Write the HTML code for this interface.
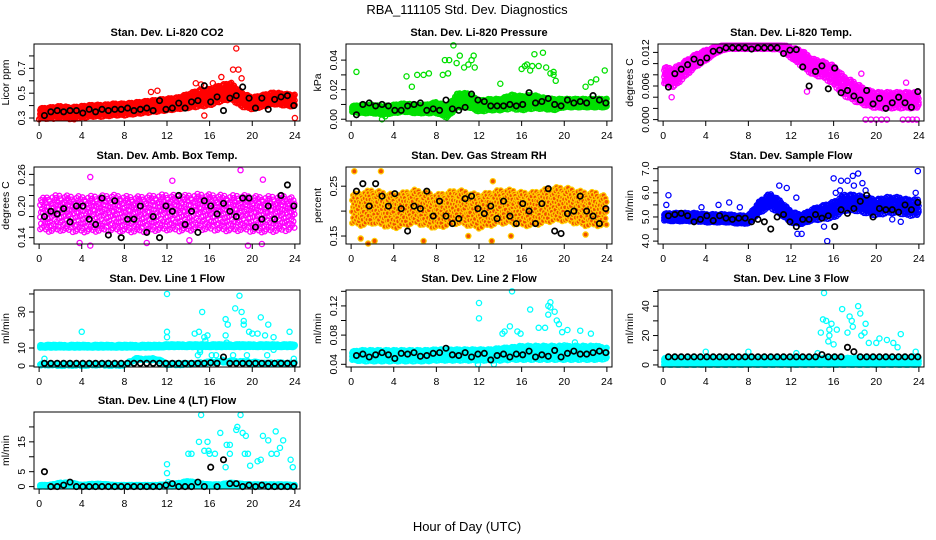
<!DOCTYPE html>
<html><head><meta charset="utf-8"><style>
body{margin:0;background:#fff;width:936px;height:540px;overflow:hidden}
svg{display:block}
text{font-family:"Liberation Sans",sans-serif;fill:#000}
</style></head><body>
<svg id="chart" width="936" height="540" viewBox="0 0 936 540" xmlns="http://www.w3.org/2000/svg">
<text x="467" y="14" font-size="13" text-anchor="middle">RBA_111105  Std. Dev. Diagnostics</text>
<text x="467" y="531" font-size="13" text-anchor="middle">Hour of Day (UTC)</text>
</svg>
<script>
// ---- data (hour-indexed band centres 0..24, band half-widths, outliers, black points) ----
const xTicks=[0,4,8,12,16,20,24];
const co2Center=[0.34,0.34,0.35,0.34,0.35,0.36,0.36,0.37,0.37,0.38,0.39,0.40,0.41,0.42,0.44,0.46,0.47,0.50,0.52,0.45,0.42,0.44,0.46,0.45,0.44];
const co2Spread=[0.04,0.05,0.05,0.05,0.05,0.05,0.05,0.05,0.05,0.05,0.05,0.05,0.05,0.05,0.06,0.07,0.07,0.07,0.07,0.06,0.05,0.05,0.05,0.05,0.05];
const co2Out=[[18.5,0.86],[18.2,0.69],[18.7,0.69],[17.1,0.63],[19,0.62],[16.3,0.58],[15.2,0.57],[14.7,0.58],[11.1,0.52],[10.5,0.51],[24,0.3],[3.3,0.29],[0,0.29],[15.5,0.32]];
const co2Black=[0.32,0.35,0.36,0.35,0.36,0.36,0.34,0.37,0.35,0.37,0.36,0.37,0.37,0.38,0.36,0.37,0.38,0.36,0.44,0.37,0.38,0.42,0.38,0.43,0.44,0.56,0.43,0.47,0.36,0.46,0.48,0.55,0.46,0.38,0.46,0.37,0.45,0.47,0.48,0.40];

const presCenter=[0.007,0.007,0.007,0.006,0.007,0.008,0.007,0.007,0.008,0.005,0.013,0.013,0.009,0.010,0.010,0.012,0.011,0.012,0.011,0.010,0.011,0.011,0.011,0.011,0.011];
const presSpread=[0.002,0.003,0.003,0.003,0.003,0.003,0.003,0.003,0.004,0.004,0.005,0.005,0.004,0.004,0.004,0.005,0.005,0.005,0.004,0.004,0.003,0.003,0.003,0.003,0.003];
const presOut=[[0.5,0.032],[5.2,0.029],[5.7,0.022],[6.2,0.030],[6.8,0.030],[7.3,0.031],[8.6,0.030],[9.1,0.031],[8.8,0.04],[9.2,0.04],[9.6,0.05],[9.9,0.038],[10.2,0.043],[10.6,0.035],[11.0,0.037],[11.3,0.040],[11.6,0.035],[11.5,0.043],[14,0.024],[16,0.034],[16.5,0.037],[17,0.036],[17.2,0.044],[17.6,0.036],[18,0.045],[18.3,0.035],[18.7,0.031],[19,0.032],[19.2,0.026],[19,0.03],[22,0.022],[22.5,0.025],[23,0.027],[23.8,0.033],[2.9,0.0],[3.2,0.002],[16.3,0.036],[16.8,0.033]];
const presBlack=[0.003,0.010,0.011,0.009,0.010,0.009,0.006,0.006,0.009,0.010,0.011,0.006,0.007,0.006,0.013,0.007,0.006,0.008,0.017,0.013,0.012,0.009,0.009,0.009,0.010,0.009,0.010,0.018,0.011,0.012,0.014,0.010,0.009,0.013,0.011,0.012,0.011,0.016,0.013,0.011];

const tempCenter=[0.008,0.0075,0.009,0.0105,0.0115,0.0125,0.013,0.013,0.013,0.013,0.013,0.013,0.012,0.011,0.0095,0.009,0.008,0.006,0.005,0.004,0.0035,0.0035,0.0035,0.0035,0.0035];
const tempSpread=[0.0015,0.0018,0.0015,0.0012,0.001,0.0006,0.0004,0.0004,0.0004,0.0004,0.0004,0.0005,0.001,0.0015,0.0015,0.0015,0.0018,0.0018,0.0018,0.0015,0.0015,0.0015,0.0015,0.0015,0.0015];
const tempOut=[[19,0],[19.5,0],[20,0],[20.5,0],[21,0],[22.5,0],[23,0],[23.4,0],[23.8,0],[0.8,0.004],[13.5,0.005],[18.6,0.0082],[22.8,0.0066]];
const tempBlack=[0.0058,0.0082,0.009,0.0098,0.0108,0.0102,0.011,0.0122,0.0124,0.0128,0.0128,0.0128,0.0128,0.0126,0.0128,0.0128,0.0128,0.0128,0.0118,0.0124,0.0125,0.0094,0.0060,0.0086,0.0096,0.0055,0.0092,0.0048,0.0052,0.0042,0.0035,0.0052,0.0028,0.0038,0.0020,0.0030,0.0040,0.0030,0.0022,0.0050];

const ambCenter=[0.185,0.186,0.188,0.186,0.185,0.186,0.187,0.188,0.186,0.185,0.186,0.188,0.189,0.187,0.188,0.190,0.189,0.188,0.187,0.188,0.186,0.185,0.186,0.187,0.186];
const ambSpread=[0.03,0.035,0.035,0.035,0.035,0.035,0.035,0.035,0.035,0.035,0.035,0.035,0.035,0.035,0.035,0.035,0.035,0.035,0.035,0.035,0.035,0.035,0.035,0.035,0.03];
const ambOut=[[4.8,0.255],[18.9,0.268],[12.5,0.248],[21.0,0.25],[3.8,0.13],[4.8,0.125],[10.1,0.13],[19.6,0.125],[20.9,0.128],[14.1,0.135]];
const ambBlack=[0.18,0.19,0.185,0.195,0.17,0.2,0.2,0.175,0.165,0.215,0.145,0.21,0.14,0.175,0.175,0.2,0.15,0.18,0.14,0.2,0.19,0.22,0.165,0.19,0.15,0.21,0.2,0.185,0.205,0.19,0.18,0.215,0.215,0.16,0.175,0.2,0.175,0.22,0.24,0.2];

const rhCenter=[0.205,0.205,0.21,0.205,0.2,0.205,0.21,0.205,0.2,0.205,0.21,0.205,0.2,0.205,0.21,0.21,0.205,0.205,0.21,0.215,0.215,0.21,0.205,0.205,0.2];
const rhSpread=[0.03,0.035,0.035,0.035,0.035,0.035,0.035,0.035,0.035,0.035,0.035,0.035,0.035,0.035,0.035,0.035,0.035,0.035,0.035,0.035,0.035,0.035,0.035,0.035,0.03];
const rhOut=[[0.3,0.28],[2.8,0.28],[1.6,0.135],[0.9,0.145],[2.2,0.14],[13.2,0.14],[6.8,0.14],[11,0.15],[13.3,0.26],[15,0.15],[22,0.153]];
const rhBlack=[0.24,0.255,0.21,0.255,0.23,0.21,0.235,0.205,0.16,0.21,0.205,0.24,0.19,0.22,0.19,0.175,0.185,0.225,0.23,0.205,0.195,0.21,0.185,0.22,0.19,0.175,0.215,0.2,0.175,0.215,0.245,0.16,0.155,0.195,0.2,0.23,0.2,0.19,0.175,0.205];

const sfCenter=[5.0,5.0,5.0,5.0,4.95,4.95,4.95,4.9,4.9,5.4,5.7,5.4,5.0,4.9,5.1,5.2,5.3,5.6,5.6,5.5,5.4,5.5,5.5,5.4,5.4];
const sfSpread=[0.15,0.18,0.18,0.18,0.18,0.18,0.18,0.18,0.18,0.25,0.3,0.3,0.25,0.2,0.25,0.3,0.35,0.35,0.35,0.35,0.35,0.35,0.35,0.35,0.35];
const sfOut=[[0.3,5.5],[0.5,5.9],[5.2,5.5],[6.2,5.6],[7.2,5.4],[10.9,6.3],[11.6,6.2],[12.5,5.8],[12.6,4.3],[13,4.3],[15.4,4.0],[15.1,4.6],[16,6.6],[16.7,6.5],[17.3,6.5],[18.3,6.8],[18.7,6.4],[17.9,6.3],[16.6,6.1],[19,6.1],[23.9,6.9],[23.7,6.0],[22,5.2],[21.5,4.9],[22.3,4.8],[3.6,5.4],[17.8,6.7],[16.2,6.0]];
const sfBlack=[5.05,5.1,5.15,5.05,4.8,4.9,5.05,4.85,5.05,4.95,4.9,4.95,4.95,4.8,4.9,4.8,4.5,5.0,5.1,4.8,4.6,4.9,4.9,5.1,4.95,5.05,4.6,5.3,5.15,5.35,5.65,5.9,5.0,5.35,5.3,5.3,5.2,5.5,5.3,5.6];

const l1Center=[11,11,11,11,11,11,11,11,11,11,11,11,11.3,11.3,11.3,11.3,11.3,11.3,11.3,11.3,11.3,11.3,11.3,11.3,11.3];
const l1Spread=[0.8,0.8,0.8,0.8,0.8,0.8,0.8,0.8,0.8,0.8,0.8,0.8,0.8,0.8,0.8,0.8,0.8,0.8,0.8,0.8,0.8,0.8,0.8,0.8,0.8];
const l1Low=[0.8,0.8,0.6,0.6,0.6,0.8,0.8,0.6,0.6,3.8,3.8,3.8,1.0,1.0,1.2,1.5,2.0,2.5,2.5,2.5,2.0,1.5,1.5,1.5,1.5];
const l1Out=[[0.5,4],[4,19],[12,40],[12,19],[12,16],[15.3,30],[15,19],[15.1,7.7],[15.1,9],[14.6,18],[15.5,16],[15.8,17],[15.6,14],[17.5,26],[17.7,23],[17.5,17],[17.6,13],[18.4,32],[18.8,39],[19,30],[19.2,25],[19.2,23],[18.8,12],[19.7,19],[20,18],[20.5,18],[20.8,27],[21.2,17],[21.5,23],[22,16],[22,9],[23.5,19],[23.9,4],[16.2,6],[16.6,6],[18.2,6],[19.5,6],[21.4,6],[17.2,3.5],[14.9,6]];
const l1Black=[1.5,1.5,1.5,1.5,1.5,1.5,1.5,1.5,1.5,1.5,1.5,1.5,1.5,1.5,1.5,1.5,1.5,1.5,1.5,1.5,1.5,1.5,1.5,1.5,1.5,1.5,1.8,1.5,5.0,1.5,1.5,1.5,1.5,1.5,1.5,1.5,1.5,1.5,1.5,1.5];

const l2Center=[0.052,0.052,0.052,0.052,0.052,0.052,0.052,0.052,0.053,0.053,0.053,0.053,0.053,0.053,0.054,0.055,0.056,0.056,0.056,0.056,0.056,0.056,0.056,0.056,0.055];
const l2Spread=[0.006,0.008,0.008,0.008,0.008,0.008,0.008,0.008,0.008,0.008,0.008,0.008,0.008,0.008,0.009,0.009,0.01,0.01,0.01,0.01,0.01,0.01,0.01,0.01,0.008];
const l2Out=[[12,0.124],[12,0.103],[15.1,0.14],[14.9,0.092],[14.4,0.085],[14.2,0.082],[15.6,0.085],[15.9,0.082],[16.8,0.115],[17.6,0.09],[18.2,0.09],[18.7,0.125],[18.5,0.12],[18.7,0.118],[19.1,0.112],[19.3,0.1],[19.5,0.095],[19.8,0.084],[20.3,0.087],[21.5,0.086],[22.5,0.082],[20,0.066],[21,0.07],[23,0.065],[11.9,0.04],[13.4,0.04],[9,0.06],[18.5,0.108]];
const l2Black=[0.052,0.054,0.05,0.053,0.056,0.053,0.048,0.055,0.054,0.056,0.051,0.052,0.055,0.056,0.062,0.053,0.052,0.056,0.05,0.054,0.055,0.046,0.052,0.054,0.05,0.054,0.053,0.058,0.05,0.053,0.051,0.059,0.05,0.055,0.058,0.054,0.054,0.056,0.058,0.056];

const l3Center=[2.5,2.5,2.5,2.5,2.5,2.5,2.5,2.5,2.5,2.5,2.5,2.5,2.5,2.5,2.5,2.5,2.5,2.5,2.5,2.5,2.5,2.5,2.5,2.5,2.5];
const l3Spread=[2.5,2.5,2.5,2.5,2.5,2.5,2.5,2.5,2.5,2.5,2.5,2.5,2.5,2.5,2.5,2.5,2.5,2.5,2.5,2.5,2.5,2.5,2.5,2.5,2.5];
const l3Out=[[14.8,22],[15,31],[15.1,49],[15.3,30],[15.6,24],[15.6,20],[15.8,28],[16.3,24],[16.8,38],[17.3,22],[17.5,33],[17.7,30],[17.8,26],[18.3,40],[18.5,35],[18.6,20],[19,28],[18.9,22],[19.3,15],[20,15],[20.3,18],[21,17],[21.6,15],[22.3,21],[22,12],[23.7,9],[4,9],[8,9],[12.5,8],[14.5,8],[15.5,16],[16,14]];
const l3Black=[5.5,5.5,5.5,5.5,5.5,5.5,5.5,5.5,5.5,5.5,5.5,5.5,5.5,5.5,5.5,5.5,5.5,5.5,5.5,5.5,5.5,5.5,5.5,5.5,7.0,5.5,5.5,5.5,12.0,9.0,5.5,5.5,5.5,5.5,5.5,5.5,5.5,5.5,5.5,5.5];

const l4Center=[0.3,0.3,0.8,0.8,0.3,0.5,0.5,0.3,0.3,0.3,0.3,0.3,0.4,0.6,1.2,0.6,0.4,0.4,0.8,0.5,0.4,0.4,0.4,0.4,0.3];
const l4Spread=[0.3,0.3,0.6,0.6,0.3,0.5,0.5,0.3,0.3,0.3,0.3,0.3,0.4,0.6,0.8,0.6,0.4,0.4,0.6,0.5,0.4,0.4,0.4,0.4,0.3];
const l4Out=[[12,7.5],[12,4.5],[15,15],[15.2,24],[15.5,12],[15.8,15],[15.9,12],[16,11],[16.5,11],[14,11],[14.3,11],[17,18],[17.6,14],[17.5,6.5],[17.9,14],[17.9,11],[18.6,20],[18.5,19],[18.9,24],[19.1,18],[19.4,17],[19.3,11],[19.6,11],[19.8,7],[20.5,8.5],[20.8,9],[21,17],[21.5,15.5],[21.8,11],[22.2,18.5],[22.3,11],[22.6,13],[22.9,15.5],[23.6,9],[23.8,6.5],[12.1,1.5]];
const l4Black=[5.0,0,0,0.5,1.5,0,0,0,0,0,0,0,0,0,0,0,0,0,0,0.5,1.0,0,0,0,1.5,0,6.5,0,9.0,1.0,1.0,0,0.5,0,0.5,0,0,0,0,0];

// ---- layout ----
const colX=[34,346,658], rowY=[44,167,290,412], W=266, H=77;
const jitter=[-0.95,-0.2,0.55,0.1,0.85,-0.6,0.3,-0.85,0.7,-0.35,0.05,0.95,-0.7,0.45,-0.15,0.8,-0.5,0.2,-0.9,0.6,-0.05,0.4,-0.75,0.9,-0.3,0.15,-0.55,0.75,-1.0,0.35,-0.25,0.65,-0.45,0.0,0.5,-0.65,0.25];
const panels=[
 {name:'co2',title:'Stan. Dev. Li-820 CO2',ylab:'Licor ppm',r:0,c:0,ylim:[0.276,0.896],ticks:[0.3,0.4,0.5,0.6,0.7,0.8],labels:[0.3,0.5,0.7],dec:1,col:'#ff0000',center:co2Center,spread:co2Spread,out:co2Out,black:co2Black,step:0.06},
 {name:'pressure',title:'Stan. Dev. Li-820 Pressure',ylab:'kPa',r:0,c:1,ylim:[-0.0012,0.0509],ticks:[0,0.01,0.02,0.03,0.04],labels:[0,0.02,0.04],dec:2,col:'#00e000',center:presCenter,spread:presSpread,out:presOut,black:presBlack,step:0.06},
 {name:'temp',title:'Stan. Dev. Li-820 Temp.',ylab:'degrees C',r:0,c:2,ylim:[-0.00025,0.0135],ticks:[0,0.002,0.004,0.006,0.008,0.010,0.012],labels:[0,0.006,0.012],dec:3,col:'#ff00ff',center:tempCenter,spread:tempSpread,out:tempOut,black:tempBlack,clip:[0,0.0132],step:0.07},
 {name:'amb-box-temp',title:'Stan. Dev. Amb. Box Temp.',ylab:'degrees C',r:1,c:0,ylim:[0.128,0.274],ticks:[0.14,0.16,0.18,0.20,0.22,0.24,0.26],labels:[0.14,0.20,0.26],dec:2,col:'#ff00ff',center:ambCenter,spread:ambSpread,out:ambOut,black:ambBlack,step:0.09},
 {name:'gas-rh',title:'Stan. Dev. Gas Stream RH',ylab:'percent',r:1,c:1,ylim:[0.134,0.2885],ticks:[0.15,0.20,0.25],labels:[0.15,0.25],dec:2,col:'#ffcc00',dot:'#f05000',center:rhCenter,spread:rhSpread,out:rhOut,black:rhBlack,step:0.09},
 {name:'sample-flow',title:'Stan. Dev. Sample Flow',ylab:'ml/min',r:1,c:2,ylim:[3.88,7.07],ticks:[4,4.5,5,5.5,6,6.5,7],labels:[4,5,6,7],dec:1,col:'#0000ff',center:sfCenter,spread:sfSpread,out:sfOut,black:sfBlack,step:0.07},
 {name:'line1-flow',title:'Stan. Dev. Line 1 Flow',ylab:'ml/min',r:2,c:0,ylim:[-0.55,42.2],ticks:[0,10,20,30,40],labels:[0,10,30],dec:0,col:'#00ffff',center:l1Center,spread:l1Spread,low:l1Low,out:l1Out,black:l1Black,step:0.06},
 {name:'line2-flow',title:'Stan. Dev. Line 2 Flow',ylab:'ml/min',r:2,c:1,ylim:[0.0363,0.1418],ticks:[0.04,0.06,0.08,0.10,0.12,0.14],labels:[0.04,0.08,0.12],dec:2,col:'#00ffff',center:l2Center,spread:l2Spread,out:l2Out,black:l2Black,step:0.06},
 {name:'line3-flow',title:'Stan. Dev. Line 3 Flow',ylab:'ml/min',r:2,c:2,ylim:[-1.4,51],ticks:[0,10,20,30,40,50],labels:[0,20,40],dec:0,col:'#00ffff',center:l3Center,spread:l3Spread,out:l3Out,black:l3Black,clip:[0,6],step:0.06},
 {name:'line4-flow',title:'Stan. Dev. Line 4 (LT) Flow',ylab:'ml/min',r:3,c:0,ylim:[-0.8,25],ticks:[0,5,10,15,20],labels:[0,5,15],dec:0,col:'#00ffff',center:l4Center,spread:l4Spread,out:l4Out,black:l4Black,clip:[0,3],step:0.06}
];
const NS='http://www.w3.org/2000/svg';
const svg=document.getElementById('chart');
function mk(tag,attrs,parent){const e=document.createElementNS(NS,tag);for(const k in attrs)e.setAttribute(k,attrs[k]);(parent||svg).appendChild(e);return e;}
function interp(arr,t){const i=Math.min(23,Math.floor(t));const f=t-i;return arr[i]*(1-f)+arr[i+1]*f;}

panels.forEach(p=>{
  const x0=colX[p.c], y0=rowY[p.r];
  const xs=v=>x0+(v+0.48)/24.96*W;
  const ys=v=>y0+H-(v-p.ylim[0])/(p.ylim[1]-p.ylim[0])*H;
  const g=mk('g',{});
  
  
  const t=mk('text',{x:x0+W/2,y:y0-8,'font-size':11,'font-weight':'bold','text-anchor':'middle'},g);
  t.textContent=p.title;
  
  
  const yl=mk('text',{x:0,y:0,'font-size':10.5,'text-anchor':'middle',transform:`translate(${x0-25},${y0+H/2}) rotate(-90)`},g);
  yl.textContent=p.ylab;
  
  
  const pts=mk('g',{fill:'none',stroke:p.col,'stroke-width':1.3},g);
  
  
  let k=0;
  for(let h=0.1;h<=24.0;h+=p.step){
    const c=interp(p.center,h), s=interp(p.spread,h);
    for(let j=0;j<3;j++){
      let v=c+s*jitter[(k++)%jitter.length];
      if(p.clip)v=Math.max(p.clip[0],Math.min(p.clip[1],v));
      const e=mk('circle',{cx:xs(h).toFixed(1),cy:ys(v).toFixed(1),r:2.5},pts);
      if(p.dot)e.setAttribute('fill',p.dot);
    }
    if(p.low){const v=interp(p.low,h)+0.6*jitter[(k++)%jitter.length];mk('circle',{cx:xs(h).toFixed(1),cy:ys(Math.max(0,v)).toFixed(1),r:2.5},pts);}
  }
  p.out.forEach(o=>{const e=mk('circle',{cx:xs(o[0]),cy:ys(o[1]),r:2.6},pts);if(p.dot)e.setAttribute('fill',p.dot);});
  const bk=mk('g',{fill:'none',stroke:'#000','stroke-width':1.7},g);
  
  
  p.black.forEach((v,i)=>{mk('circle',{cx:xs(0.5+0.6*i),cy:ys(v),r:2.7},bk);});
  const b=mk('rect',{x:x0,y:y0,width:W,height:H,fill:'none',stroke:'#000','stroke-width':1},g);
  
  
  const xa=mk('g',{},g);
  
  
  mk('line',{x1:xs(xTicks[0]),x2:xs(xTicks[xTicks.length-1]),y1:y0+H,y2:y0+H,stroke:'#000'},xa);
  xTicks.forEach(v=>{
    mk('line',{x1:xs(v),x2:xs(v),y1:y0+H,y2:y0+H+5,stroke:'#000'},xa);
    const tt=mk('text',{x:xs(v),y:y0+H+18,'font-size':10.5,'text-anchor':'middle'},xa);
    tt.textContent=v;
  });
  const ya=mk('g',{},g);
  
  
  mk('line',{x1:x0,x2:x0,y1:ys(p.ticks[0]),y2:ys(p.ticks[p.ticks.length-1]),stroke:'#000'},ya);
  p.ticks.forEach(v=>{mk('line',{x1:x0-5,x2:x0,y1:ys(v),y2:ys(v),stroke:'#000'},ya);});
  p.labels.forEach(v=>{
    const tt=mk('text',{x:0,y:0,'font-size':10.5,'text-anchor':'middle',transform:`translate(${x0-9},${ys(v)}) rotate(-90)`},ya);
    tt.textContent=v.toFixed(p.dec);
  });
});
</script>
</body></html>
